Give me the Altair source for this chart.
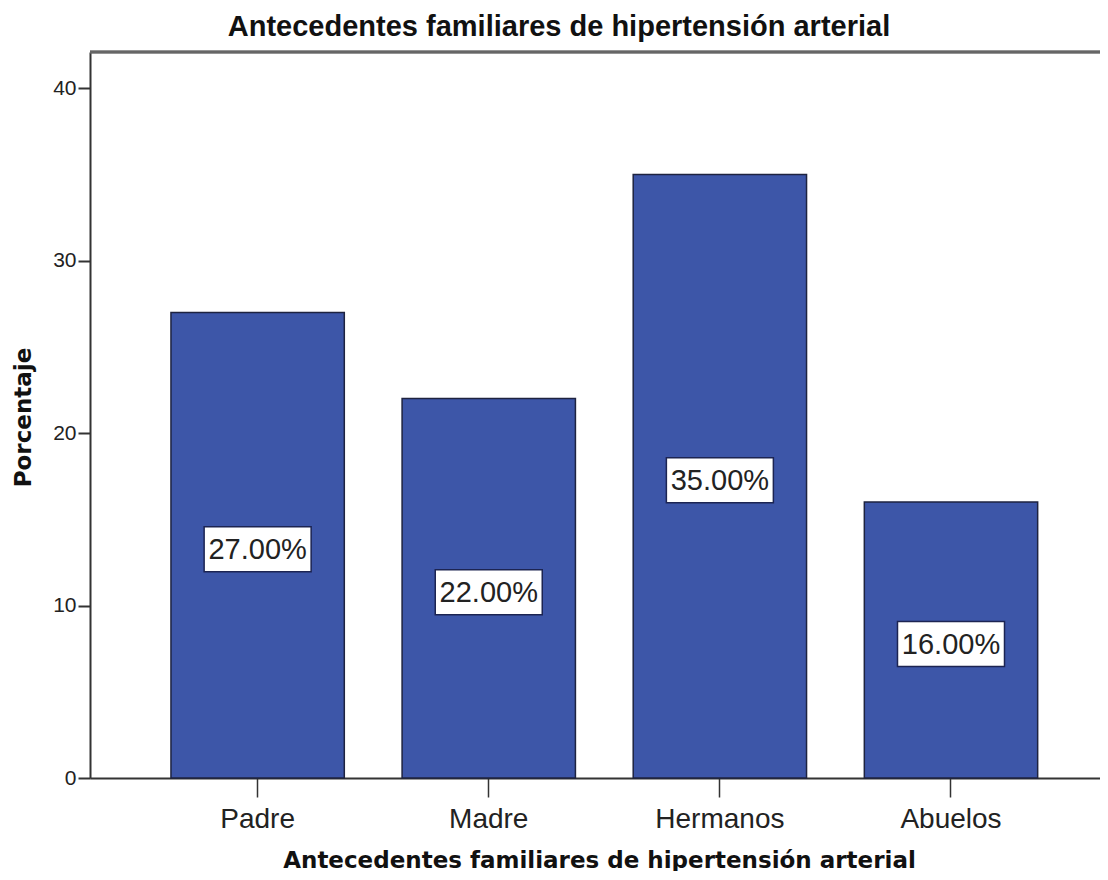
import altair as alt
import pandas as pd

categories = ["Padre", "Madre", "Hermanos", "Abuelos"]
percentages = [27.0, 22.0, 35.0, 16.0]
y_ticks = [0, 10, 20, 30, 40]

title_text = "Antecedentes familiares de hipertensión arterial"
x_title = "Antecedentes familiares de hipertensión arterial"
y_title = "Porcentaje"

df = pd.DataFrame({"cat": categories, "pct": percentages})

W, H = 1010, 726
FONT = "Liberation Sans"
BOLD2 = "DejaVu Sans"

xscale = alt.Scale(paddingInner=0.25, paddingOuter=0.31, align=0.565)
yscale = alt.Scale(domain=[0, 42.1], nice=False, zero=True)

x_enc = alt.X(
    "cat:N",
    sort=categories,
    scale=xscale,
    axis=alt.Axis(
        title=x_title,
        labelAngle=0,
        labelFont=FONT,
        labelFontSize=28,
        labelColor="#222222",
        labelBaseline="alphabetic",
        labelPadding=30,
        tickSize=19,
        tickWidth=1.5,
        tickColor="#333333",
        domainColor="#333333",
        domainWidth=2,
        titleFont=BOLD2,
        titleFontSize=23,
        titleFontWeight="bold",
        titleColor="#111111",
        titleX=509,
        titleY=89,
        titleAlign="center",
        titleBaseline="alphabetic",
        grid=False,
    ),
)

y_enc = alt.Y(
    "pct:Q",
    scale=yscale,
    axis=alt.Axis(
        title=y_title,
        values=y_ticks,
        labelFont=FONT,
        labelFontSize=21,
        labelColor="#222222",
        labelPadding=2,
        tickSize=12,
        tickWidth=2,
        tickColor="#333333",
        domainColor="#333333",
        domainWidth=2,
        grid=False,
        titleFont=BOLD2,
        titleFontSize=23,
        titleFontWeight="bold",
        titleColor="#111111",
        titleX=-67,
        titleY=365,
        titleAngle=270,
        titleAlign="center",
        titleBaseline="middle",
    ),
)

base = alt.Chart(df)

bars = base.mark_bar(color="#3d56a8", stroke="#1e2340", strokeWidth=1.5).encode(
    x=x_enc, y=y_enc
)

mid = base.transform_calculate(
    half="datum.pct / 2",
    lab="format(datum.pct, '.2f') + '%'",
)

box_path = "M-1,-0.4206L1,-0.4206L1,0.4206L-1,0.4206Z"
boxes = mid.mark_point(
    shape=box_path,
    size=107 * 107,
    filled=True,
    fill="#ffffff",
    stroke="#1c2452",
    strokeWidth=1.5,
    opacity=1,
    yOffset=4,
).encode(
    x=alt.X("cat:N", sort=categories, scale=xscale),
    y=alt.Y("half:Q", scale=yscale),
)

texts = mid.mark_text(
    font=FONT,
    fontSize=29,
    color="#222222",
    baseline="middle",
    align="center",
    dy=5,
).encode(
    x=alt.X("cat:N", sort=categories, scale=xscale),
    y=alt.Y("half:Q", scale=yscale),
    text="lab:N",
)

top_border = alt.Chart(df).mark_rule(color="#666666", strokeWidth=2.5).encode(
    x=alt.value(0), x2=alt.value(W), y=alt.value(0)
)

chart = (
    alt.layer(bars, boxes, texts, top_border)
    .properties(
        width=W,
        height=H,
        autosize=alt.AutoSizeParams(type="none"),
        padding={"left": 82, "top": 44, "right": 0, "bottom": 93},
        title=alt.TitleParams(
            text=title_text,
            font=FONT,
            fontSize=29,
            fontWeight="bold",
            color="#111111",
            anchor="middle",
            frame="group",
            dx=-36,
            dy=29,
            offset=15,
            baseline="alphabetic",
        ),
    )
    .configure_view(fill="#f0f0f0", strokeWidth=0)
    .configure(background="#ffffff")
)

chart.save("out.html", embed_options={"renderer": "svg", "actions": False})
